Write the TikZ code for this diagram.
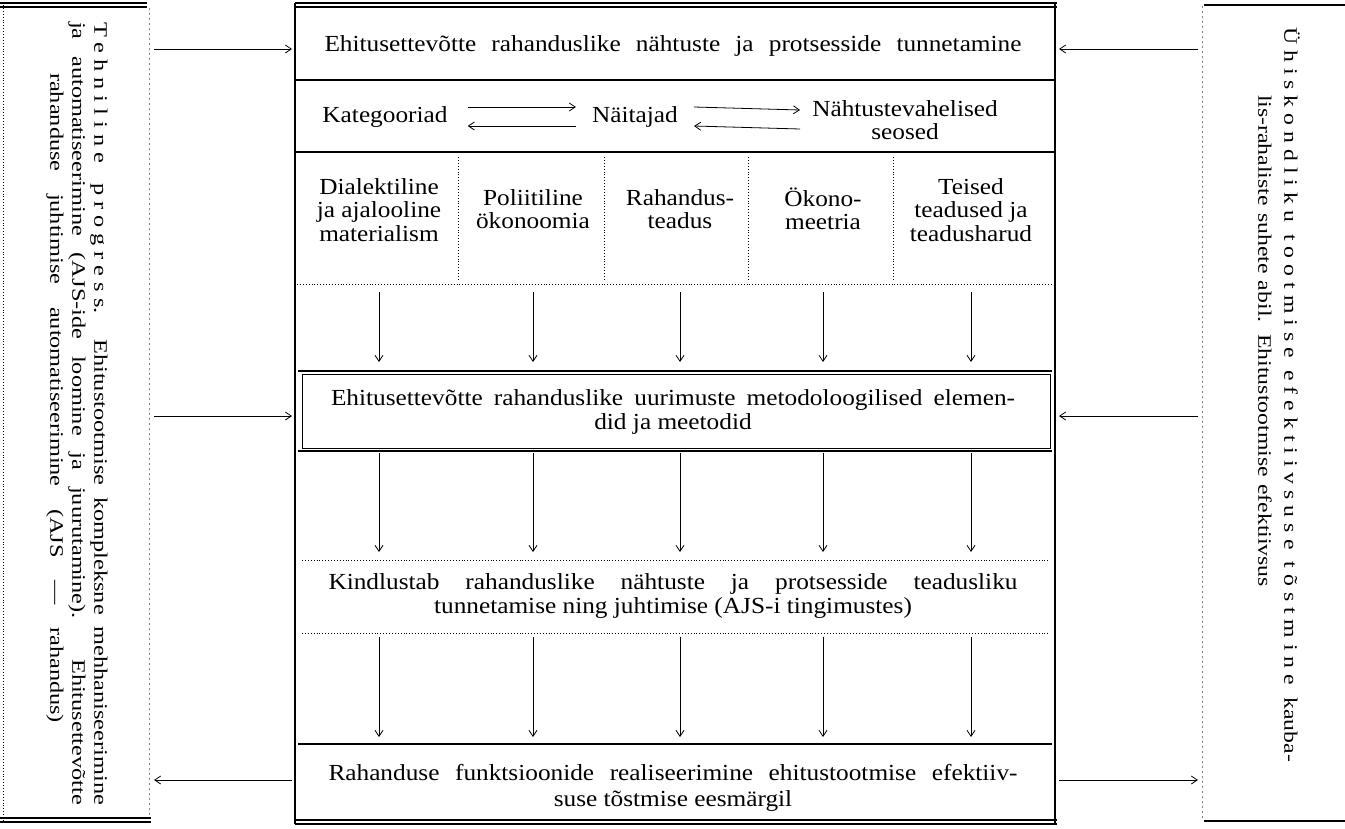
\documentclass[tikz,border=0pt]{standalone}
\usepackage{fontspec}
\setmainfont{Liberation Serif}[FakeStretch=1.1]
\newfontfamily\sidefontL{Liberation Serif}[FakeStretch=1.28]
\newfontfamily\sidefontR{Liberation Serif}[FakeStretch=1.25]
\usetikzlibrary{arrows.meta,calc}
\newcommand\mainsz{\fontsize{23}{23.5}\selectfont}
\newcommand\sideszL{\sidefontL\fontsize{19}{21}\selectfont}
\newcommand\sideszR{\sidefontR\fontsize{19}{21}\selectfont}
\newcommand\lsk{\kern6pt}
\newcommand\rsk{\kern6pt}
\begin{document}
\begin{tikzpicture}[x=1pt,y=-1pt,
  fline/.style={line width=1.1pt},
  dline/.style={dotted,line width=0.9pt},
  bline/.style={dash pattern=on 2pt off 3pt,line width=0.7pt,gray},
  arr/.style={-{Straight Barb[length=6pt,width=8pt]},line width=0.8pt},
  txt/.style={inner sep=0pt,align=center,font=\mainsz},
  sideL/.style={inner sep=0pt,rotate=-90,font=\sideszL},
  sideR/.style={inner sep=0pt,rotate=-90,font=\sideszR}]
\useasboundingbox (0,0) rectangle (1345,828);
% reference coordinates
\coordinate (LB) at (154,0);
\coordinate (FL) at (292,0);
\coordinate (FR) at (1059,0);
\coordinate (RB) at (1198,0);
\coordinate (ya1) at (0,49);
\coordinate (ya2) at (0,416);
\coordinate (ya3) at (0,780);
\coordinate (L1s) at (0,292);
\coordinate (L1e) at (0,362);
\coordinate (L2s) at (0,453);
\coordinate (L2e) at (0,552);
\coordinate (L3s) at (0,637);
\coordinate (L3e) at (0,737);
% left column
\draw[fline] (0,3) -- (147,3); \draw[fline] (0,7) -- (147,7);
\draw[fline] (0,818) -- (151,818); \draw[fline] (0,822) -- (151,822);
\draw[dline] (3,5) -- (3,820);
\draw[bline] (149,8) -- (149,817);
% right column
\draw[line width=1.6pt] (1204,5) -- (1345,5);
\draw[fline] (1204,821) -- (1345,821);
\draw[bline] (1202,6) -- (1202,820);
% main frame
\draw[fline] (295,3) -- (1057,3); \draw[fline] (295,7) -- (1057,7);
\draw[fline] (295,3) -- (295,824);
\draw[fline] (1055,3) -- (1055,824);
\draw[fline] (295,80) -- (1055,80);
\draw[fline] (295,152) -- (1055,152);
\draw[dline] (297,284) -- (1052,284);
\foreach \x in {458,604,748,893} \draw[dline] (\x,157) -- (\x,281);
% middle box
\draw[fline] (298,371) -- (1052,371);
\draw[fline] (298,451) -- (1052,451);
\node[draw,line width=0.8pt,minimum width=748pt,minimum height=74pt,inner sep=0pt] (mid) at (676,411) {};
\draw[dline] (302,560) -- (1050,560);
\draw[dline] (302,633) -- (1050,633);
\draw[fline] (298,744) -- (1052,744);
\draw[fline] (295,820) -- (1057,820); \draw[fline] (295,824) -- (1057,824);
% texts
\node[txt] (r1) at (673,46) {\makebox[697pt][s]{Ehitusettevõtte rahanduslike nähtuste ja protsesside tunnetamine}};
\node[txt] (kat) at (385,117) {Kategooriad};
\node[txt] (nai) at (635,117) {Näitajad};
\node[txt] (nah) at (905,120) {Nähtustevahelised\\seosed};
\draw[arr] ([xshift=20pt,yshift=10pt]kat.east) -- ([xshift=-16pt,yshift=10pt]nai.west);
\draw[arr] ([xshift=-16pt,yshift=-9pt]nai.west) -- ([xshift=20pt,yshift=-9pt]kat.east);
\draw[arr] ([xshift=16pt,yshift=10pt]nai.east) -- ([xshift=-12pt,yshift=10pt]nah.west);
\draw[arr] ([xshift=-12pt,yshift=-9pt]nah.west) -- ([xshift=16pt,yshift=-9pt]nai.east);
\node[txt] (s1) at (379,210) {Dialektiline\\ja ajalooline\\materialism};
\node[txt] (s2) at (533,209) {Poliitiline\\ökonoomia};
\node[txt] (s3) at (680,209) {Rahandus-\\teadus};
\node[txt] (s4) at (823,209) {Ökono-\\meetria};
\node[txt] (s5) at (971,210) {Teised\\teadused ja\\teadusharud};
\node[txt] (midt) at (673,412) {\makebox[684pt][s]{Ehitusettevõtte rahanduslike uurimuste metodoloogilised elemen-}\\did ja meetodid};
\node[txt] (kin) at (673,596) {\makebox[689pt][s]{Kindlustab rahanduslike nähtuste ja protsesside teadusliku}\\tunnetamise ning juhtimise (AJS-i tingimustes)};
\node[txt] (rah) at (673,788) {\makebox[689pt][s]{Rahanduse funktsioonide realiseerimine ehitustootmise efektiiv-}\\[2pt]suse tõstmise eesmärgil};
% vertical arrows
\foreach \c in {s1,s2,s3,s4,s5} {
  \draw[arr] (\c |- L1s) -- (\c |- L1e);
  \draw[arr] (\c |- L2s) -- (\c |- L2e);
  \draw[arr] (\c |- L3s) -- (\c |- L3e);
}
% side arrows
\draw[arr] (LB |- ya1) -- (FL |- ya1);
\draw[arr] (RB |- ya1) -- (FR |- ya1);
\draw[arr] (LB |- ya2) -- (FL |- ya2);
\draw[arr] (RB |- ya2) -- (FR |- ya2);
\draw[arr] (FL |- ya3) -- (LB |- ya3);
\draw[arr] (FR |- ya3) -- (RB |- ya3);
% side texts
\node[sideL] (lt1) at (99,413.5) {\makebox[783pt][s]{T\lsk e\lsk h\lsk n\lsk i\lsk l\lsk i\lsk n\lsk e\hspace{8pt} p\lsk r\lsk o\lsk g\lsk r\lsk e\lsk s\lsk s. Ehitustootmise kompleksne mehhaniseerimine}};
\node[sideL] (lt2) at (77,413.5) {\makebox[783pt][s]{ja automatiseerimine (AJS-ide loomine ja juurutamine). Ehitusettevõtte}};
\node[sideL] (lt3) at (55,398) {\makebox[650pt][s]{rahanduse juhtimise automatiseerimine (AJS — rahandus)}};
\node[sideR] (rt1) at (1292,394.5) {\makebox[735pt][s]{Ü\rsk h\rsk i\rsk s\rsk k\rsk o\rsk n\rsk d\rsk l\rsk i\rsk k\rsk u t\rsk o\rsk o\rsk t\rsk m\rsk i\rsk s\rsk e e\rsk f\rsk e\rsk k\rsk t\rsk i\rsk i\rsk v\rsk s\rsk u\rsk s\rsk e t\rsk õ\rsk s\rsk t\rsk m\rsk i\rsk n\rsk e kauba-}};
\node[sideR] (rt2) at (1265,341) {\makebox[492pt][s]{lis-rahaliste suhete abil. Ehitustootmise efektiivsus}};
\end{tikzpicture}
\end{document}
